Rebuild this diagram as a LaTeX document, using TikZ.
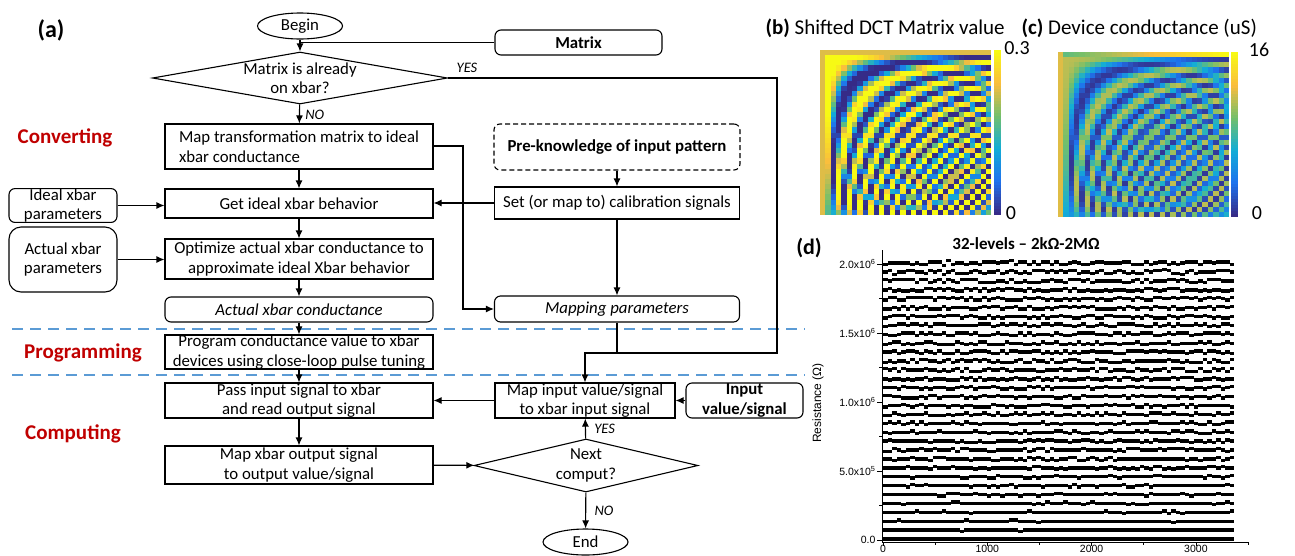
\documentclass[tikz,border=0pt]{standalone}
\usepackage{fontspec}
\setmainfont{Carlito}
\newfontfamily\plotfont{Liberation Sans}
\usetikzlibrary{positioning}
\usetikzlibrary{arrows.meta}
\usetikzlibrary{shapes.geometric}
\definecolor{phasec}{RGB}{192,0,0}
\definecolor{sepc}{RGB}{91,155,213}
\definecolor{par0}{rgb}{0.21,0.17,0.53}
\definecolor{par1}{rgb}{0.12,0.45,0.93}
\definecolor{par2}{rgb}{0.07,0.68,0.84}
\definecolor{par3}{rgb}{0.45,0.75,0.42}
\definecolor{par4}{rgb}{0.98,0.74,0.24}
\definecolor{par5}{rgb}{0.97,0.98,0.08}
\newcommand{\flowfont}{\fontsize{16.8}{19.5}\selectfont}
% picks cellc out of the parula-like map, value in [0,1]
\newcommand{\setparula}[1]{%
  \pgfmathsetmacro\pv{max(0,min(1,#1))}%
  \pgfmathtruncatemacro\pseg{min(4,floor(\pv*5))}%
  \pgfmathtruncatemacro\pnext{\pseg+1}%
  \pgfmathtruncatemacro\ppct{round(100*(\pv*5-\pseg))}%
  \colorlet{cellc}{par\pnext!\ppct!par\pseg}}

\begin{document}
\begin{tikzpicture}[x=1pt,y=-1pt,
    every node/.style={font=\flowfont},
    procbox/.style={draw,line width=1.1pt,shape=rectangle,inner sep=0pt,align=center,minimum width=268pt},
    roundbox/.style={draw,line width=1.1pt,shape=rectangle,rounded corners=6pt,inner sep=0pt,align=center},
    terminal/.style={draw,line width=1.1pt,shape=ellipse,inner sep=0pt,minimum width=85pt,minimum height=26pt},
    decision/.style={draw,line width=1.1pt,shape=diamond,inner sep=0pt},
    flowline/.style={line width=1.1pt},
    flowarrow/.style={line width=1.1pt,-{Latex[length=8pt,width=7pt]}},
    branch/.style={font=\fontsize{14.5}{16}\selectfont\itshape},
    phase/.style={font=\fontsize{21}{24}\selectfont\bfseries,text=phasec},
    sepline/.style={sepc,line width=2.6pt,dash pattern=on 11pt off 7pt},
    panel/.style={font=\fontsize{21}{24}\selectfont},
    plotlabel/.style={font=\plotfont\fontsize{10.5}{12}\selectfont},
    level/.style={fill=black}]
\useasboundingbox (0,0) rectangle (1295,555);

% (a) flow chart
\node[font=\fontsize{24}{28}\selectfont\bfseries] (tagA) at (51,30) {(a)};
\node[phase] (convlabel) at (65,138) {Converting};
\node[phase] (proglabel) at (83,353) {Programming};
\node[phase] (complabel) at (73,434) {Computing};

\node[terminal] (begin) at (300,26) {Begin};
\node[roundbox,minimum width=167pt,minimum height=25pt,font=\flowfont\bfseries] (matrix) at (578.5,42.5) {Matrix};
\node[decision,minimum width=295pt,minimum height=52pt,
      label={[align=center,font=\flowfont]center:Matrix is already\\on xbar?}] (matrixq) at (300,78) {};
\node[procbox,minimum height=45pt,align=left] (convert) at (299,146.5) {Map transformation matrix to ideal\\xbar conductance};
\node[procbox,minimum height=29pt] (getideal) at (299,203.5) {Get ideal xbar behavior};
\node[procbox,minimum height=40pt] (optimize) at (299,259) {Optimize actual xbar conductance to\\approximate ideal Xbar behavior};
\node[roundbox,minimum width=268pt,minimum height=25pt,font=\flowfont\itshape] (actualg) at (299,309.5) {Actual xbar conductance};
\node[procbox,minimum height=32pt] (program) at (299,352) {Program conductance value to xbar\\devices using close-loop pulse tuning};
\node[procbox,minimum height=35pt] (pass) at (299,400.5) {Pass input signal to xbar\\and read output signal};
\node[procbox,minimum height=38pt] (mapout) at (299,465) {Map xbar output signal\\to output value/signal};

\node[roundbox,minimum width=108pt,minimum height=33pt] (idealpar) at (63,205.5) {Ideal xbar\\parameters};
\node[roundbox,rounded corners=12pt,minimum width=108pt,minimum height=65pt] (actualpar) at (63,259.5) {Actual xbar\\parameters};

\node[roundbox,dash pattern=on 5pt off 3pt,minimum width=246pt,minimum height=46pt,font=\flowfont\bfseries] (preknow) at (617,147) {Pre-knowledge of input pattern};
\node[procbox,minimum width=245pt,minimum height=32pt] (setcal) at (617,203) {Set (or map to) calibration signals};
\node[roundbox,minimum width=245pt,minimum height=26pt,font=\flowfont\itshape] (mapping) at (617,309) {Mapping parameters};
\node[procbox,minimum width=180pt,minimum height=35pt] (mapin) at (585,400.5) {Map input value/signal\\to xbar input signal};
\node[roundbox,minimum width=117pt,minimum height=35pt,font=\flowfont\bfseries] (inputval) at (744.5,400.5) {Input\\value/signal};
\node[decision,minimum width=224pt,minimum height=53pt,
      label={[align=center,font=\flowfont]center:Next\\comput?}] (nextq) at (586,465.5) {};
\node[terminal] (end) at (585.5,542) {End};

\draw[sepline] (12,329) -- (805,329);
\draw[sepline] (12,375) -- (805,375);

\coordinate (matrixjoin) at (begin.south |- matrix.west);
\coordinate (merge) at (777,353);
\coordinate (sidebend) at (463,250);

\draw[flowarrow] (begin) -- (matrixq);
\draw[flowline] (matrix.west) -- (matrixjoin);
\draw[flowarrow] (matrixq) -- (convert) node[branch,pos=0.55,right=2pt] (noA) {NO};
\draw[flowarrow] (matrixq.east) -| (merge) -| (mapin.north);
\node[branch] (yesA) at (467,68) {YES};
\draw[flowarrow] (convert) -- (getideal);
\draw[flowarrow] (getideal) -- (optimize);
\draw[flowarrow] (optimize) -- (actualg);
\draw[flowarrow] (actualg) -- (program);
\draw[flowarrow] (program) -- (pass);
\draw[flowarrow] (pass) -- (mapout);
\draw[flowarrow] (idealpar.east) -- (idealpar.east -| getideal.west);
\draw[flowarrow] (actualpar.east) -- (actualpar.east -| optimize.west);
\draw[flowarrow] (preknow) -- (setcal);
\draw[flowarrow] (setcal.west) -- (setcal.west -| getideal.east);
\draw[flowarrow] (setcal) -- (mapping);
\draw[flowarrow] (convert.east |- 0,146) -| (sidebend) |- (mapping.west);
\draw[flowline] (mapping.south) |- (merge);
\draw[flowarrow] (inputval) -- (mapin);
\draw[flowarrow] (mapin) -- (pass);
\draw[flowarrow] (mapout) -- (nextq);
\draw[flowarrow] (nextq) -- (mapin) node[branch,midway,right=5pt] (yesB) {YES};
\draw[flowarrow] (nextq) -- (end) node[branch,midway,right=5pt] (noB) {NO};

% (b) and (c) matrices
\node[panel,anchor=west] (titleB) at (762,28) {\textbf{(b)} Shifted DCT Matrix value};
\node[panel,anchor=west] (titleC) at (1018,28) {\textbf{(c)} Device conductance (uS)};
\foreach \r in {0,...,31}{
  \foreach \c in {0,...,31}{
    \pgfmathsetmacro\cv{(\r==0 || \c==0) ? 0.43 : cos(mod((2*\c-1)*\r,128)*2.8125)}
    \setparula{0.5+0.6*\cv}
    \fill[cellc] ({820+\c*5.35},{50+\r*5.16}) rectangle ++(5.45,5.26);
    \pgfmathsetmacro\gv{\c==0 ? 0.76 : (\r==0 ? 0.55+0.45*\c/31 : 0.03+0.34*(\cv+1))}
    \setparula{\gv}
    \fill[cellc] ({1058+\c*5.35},{52+\r*5.16}) rectangle ++(5.45,5.26);
  }
}
\foreach \k in {0,...,54}{
  \setparula{\k/54}
  \fill[cellc] (994,{215-(\k+1)*3}) rectangle ++(6.5,3.1);
  \fill[cellc] (1231,{217-(\k+1)*3}) rectangle ++(7,3.1);
}
\node[font=\fontsize{20}{22}\selectfont] (maxB) at (1017,48) {0.3};
\node[font=\fontsize{20}{22}\selectfont] (minB) at (1011,213) {0};
\node[font=\fontsize{20}{22}\selectfont] (maxC) at (1259,50) {16};
\node[font=\fontsize{20}{22}\selectfont] (minC) at (1257,213) {0};

% (d) resistance levels
\node[font=\fontsize{22}{26}\selectfont\bfseries] (tagD) at (809,248) {(d)};
\node[font=\fontsize{17}{20}\selectfont\bfseries] (titleD) at (1026,244) {32-levels – 2kΩ-2MΩ};
\draw[line width=0.8pt] (882,250) -- (882,542) -- (1248,542);
\foreach \k/\lab in {0/0.0,1/5.0x10\textsuperscript{5},2/1.0x10\textsuperscript{6},3/1.5x10\textsuperscript{6},4/2.0x10\textsuperscript{6}}{
  \draw[line width=0.8pt] (882,{540-\k*69}) -- ++(-5,0);
  \node[plotlabel,anchor=east] at (879,{540-\k*69}) {\lab};
}
\foreach \k in {0,...,3}{
  \draw[line width=0.7pt] (882,{505.5-\k*69}) -- ++(-3,0);
  \draw[line width=0.8pt] ({883+\k*104.3},542) -- ++(0,4);
  \draw[line width=0.7pt] ({935+\k*104.3},542) -- ++(0,3);
}
\foreach \k/\lab in {0/0,1/1000,2/2000,3/3000}
  \node[plotlabel] at ({883+\k*104.3},548.5) {\lab};
\node[plotlabel,font=\plotfont\fontsize{12}{14}\selectfont,rotate=90] (yaxis) at (818,403) {Resistance (Ω)};
\pgfmathsetseed{42}
\foreach \lv in {0,...,31}{
  \pgfmathsetmacro\ly{539-\lv*8.9}
  \pgfmathsetmacro\amp{0.47+\lv/28}
  \foreach \j in {0,...,77}{
    \pgfmathsetmacro\off{1.3*round(\amp*rand)}
    \fill[level] ({883+4.5*\j},{\ly+\off-1.7}) rectangle ++(4.7,3.4);
  }
}
\end{tikzpicture}
\end{document}
